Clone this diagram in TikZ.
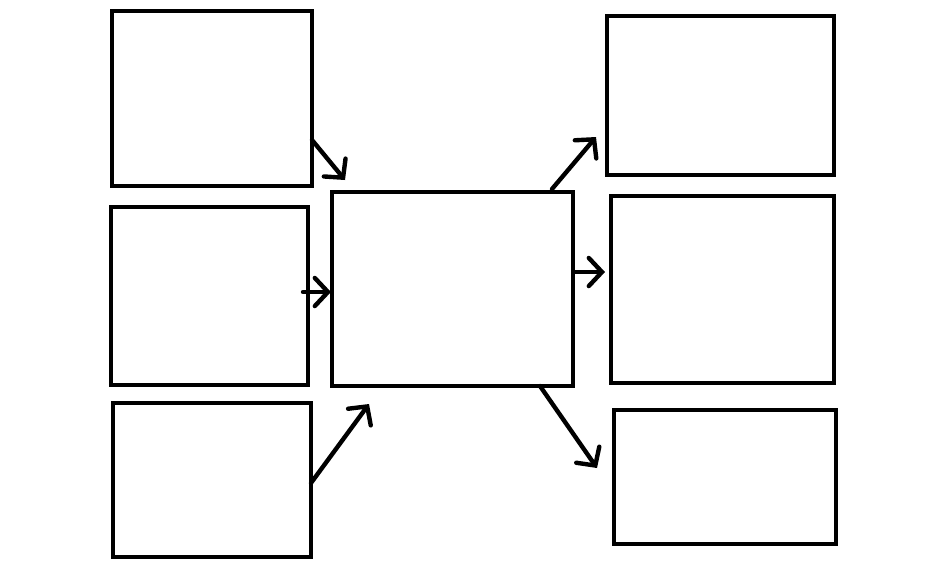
\documentclass[tikz,border=0pt]{standalone}
\usetikzlibrary{arrows.meta}

\begin{document}
\begin{tikzpicture}[x=0.02cm, y=-0.02cm,
    box/.style={draw, line width=2.5pt, inner sep=0pt},
    link/.style={line width=2.5pt, line cap=round,
      -{Straight Barb[length=7.5pt, width=16pt, line cap=round]}}]

  \useasboundingbox (0,0) rectangle (944,566);

  % inputs on the left
  \node[box, minimum width=4cm,    minimum height=3.5cm]  (in1) at (212,98.5) {};
  \node[box, minimum width=3.94cm, minimum height=3.56cm] (in2) at (209.5,296) {};
  \node[box, minimum width=3.96cm, minimum height=3.08cm] (in3) at (212,480) {};

  % the central box
  \node[box, minimum width=4.82cm, minimum height=3.88cm] (core) at (452.5,289) {};

  % outputs on the right
  \node[box, minimum width=4.54cm, minimum height=3.18cm] (out1) at (720.5,95.5) {};
  \node[box, minimum width=4.46cm, minimum height=3.74cm] (out2) at (722.5,289.5) {};
  \node[box, minimum width=4.44cm, minimum height=2.68cm] (out3) at (725,477) {};

  % arrow ends
  \coordinate (a1s) at (312,140);  \coordinate (a1e) at (345,180);
  \coordinate (a2s) at (303,292);  \coordinate (a2e) at (331,292);
  \coordinate (a3s) at (311,483);  \coordinate (a3e) at (369,404);
  \coordinate (a4s) at (552,189);  \coordinate (a4e) at (596,137);
  \coordinate (a5s) at (575,272);  \coordinate (a5e) at (605,272);
  \coordinate (a6s) at (540,386);  \coordinate (a6e) at (597,468);

  \draw[link] (a1s) -- (a1e);
  \draw[link] (a2s) -- (a2e);
  \draw[link] (a3s) -- (a3e);
  \draw[link] (a4s) -- (a4e);
  \draw[link] (a5s) -- (a5e);
  \draw[link] (a6s) -- (a6e);

\end{tikzpicture}
\end{document}
